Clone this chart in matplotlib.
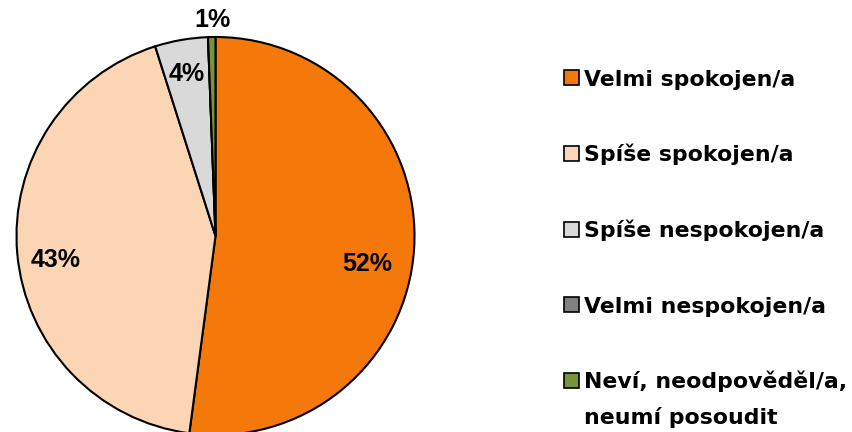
import matplotlib
matplotlib.use("Agg")
import matplotlib.pyplot as plt
from matplotlib.patches import Rectangle
import numpy as np

categories = ["Velmi spokojen/a", "Spíše spokojen/a", "Spíše nespokojen/a",
              "Velmi nespokojen/a", "Neví, neodpověděl/a,\nneumí posoudit"]
values = [52.1, 43.0, 4.3, 0.0, 0.6]
colors = ["#F5780A", "#FCD5B5", "#D9D9D9", "#808080", "#77933C"]
label_dist = [0.772, 0.809, 0.837, 0.0, 1.095]
label_rot = [-6.0, 2.9, 0.0, 0.0, -0.3]

plt.rcParams['font.family'] = ['Liberation Sans', 'DejaVu Sans']

W, H = 853, 432
fig = plt.figure(figsize=(W/100, H/100), dpi=100)
cx, cy, r = 215.5, 236, 199
ax = fig.add_axes([(cx - r)/W, (H - cy - r)/H, 2*r/W, 2*r/H])

wedges, _ = ax.pie(values, colors=colors, startangle=90, counterclock=False,
                   radius=1.0, wedgeprops=dict(edgecolor='black', linewidth=1.5))
ax.set_xlim(-1, 1)
ax.set_ylim(-1, 1)
ax.axis('off')
for w in wedges:
    w.set_clip_on(False)

pct_size = 18
for w, v, d, rot in zip(wedges, values, label_dist, label_rot):
    if v <= 0:
        continue
    ang = np.deg2rad((w.theta1 + w.theta2) / 2 + rot)
    ax.annotate(f"{v:.0f}%", (d*np.cos(ang), d*np.sin(ang)),
                xytext=(0, -0.358*pct_size), textcoords='offset points',
                ha='center', va='baseline', fontsize=pct_size,
                fontweight='bold', color='black', annotation_clip=False)

# legend
y0, dy = 77.5, 75.75
sq = 15
leg_size = 15.8
line_pitch = 35
for i, (c, lab) in enumerate(zip(colors, categories)):
    yc = y0 + i*dy
    fig.patches.append(Rectangle((564/W, (H - yc - sq/2)/H), sq/W, sq/H,
                                 transform=fig.transFigure, facecolor=c,
                                 edgecolor='black', linewidth=1.2))
    for j, line in enumerate(lab.split('\n')):
        fig.text(584/W, (H - (yc + 8 + j*line_pitch))/H, line,
                 ha='left', va='baseline', fontsize=leg_size,
                 fontweight='bold', color='black', family=['DejaVu Sans'])

fig.savefig("out.png", dpi=100)
